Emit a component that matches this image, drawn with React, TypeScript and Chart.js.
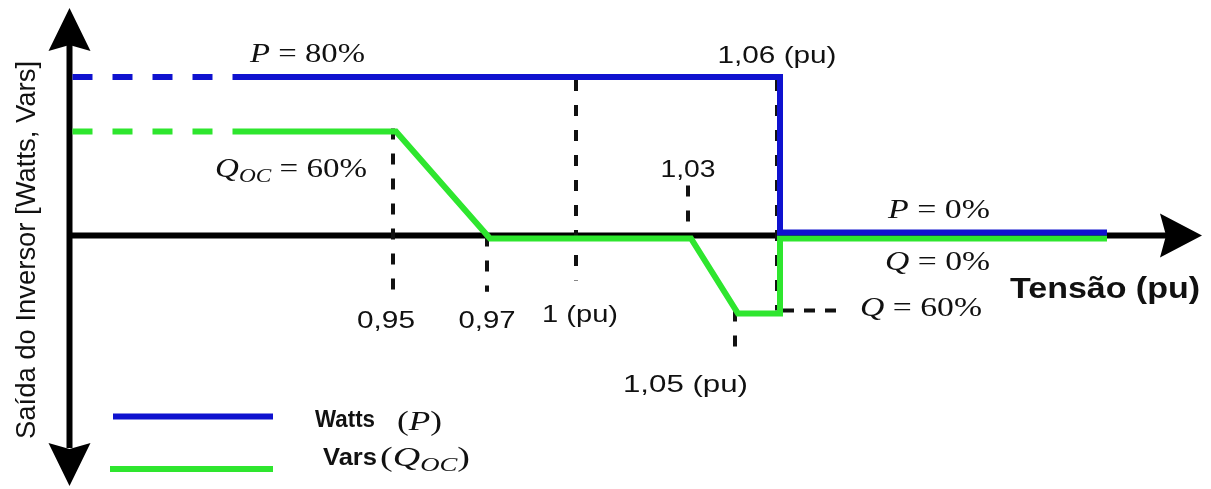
import React, { useEffect, useRef } from 'react';
import { Chart, LineController, LineElement, PointElement, LinearScale } from 'chart.js';

// ---------------------------------------------------------------------------
// Data
// ---------------------------------------------------------------------------

// Volt-watt curve: voltage (pu) -> active power (% of rating).
// 0.90 sits on the vertical axis, the dashed lead-in ends at 0.925.
const wattsVoltage = [0.9, 0.925, 1.06, 1.06, 1.1];
const wattsPercent = [80, 80, 80, 0, 0];

// Volt-var curve: voltage (pu) -> reactive power (% of rating).
const varsVoltage = [0.9, 0.925, 0.95, 0.97, 1.03, 1.05, 1.06, 1.06, 1.1];
const varsPercent = [60, 60, 60, 0, 0, -60, -60, 0, 0];

// Breakpoint ticks on the voltage axis.
const tickValues = [0.95, 0.97, 1.0, 1.03, 1.05, 1.06];
const tickLabels = ['0,95', '0,97', '1 (pu)', '1,03', '1,05 (pu)', '1,06 (pu)'];

// Dashed drop lines at each breakpoint: from level -> to level (%).
const guideFrom = [60, 0, 80, 28, -60, 80];
const guideTo = [-45, -45, -36, 0, -82, -60];

// Dashed level line pointing at the Q = -60 % plateau.
const levelGuideVoltage = [1.06, 1.068];
const levelGuidePercent = [-60, -60];

// Level annotations (math notation: letters italic, "_" starts a subscript).
const levelLabels = ['P = 80%', 'Q_OC = 60%', 'P = 0%', 'Q = 0%', 'Q = 60%'];

// Legend entries.
const legendNames = ['Watts', 'Vars'];
const legendSymbols = ['(P)', '(Q_OC)'];

const xTitle = 'Tensão (pu)';
const yTitle = 'Saída do Inversor [Watts, Vars]';

// ---------------------------------------------------------------------------
// Layout / style
// ---------------------------------------------------------------------------

const W = 1211;
const H = 489;

const BLUE = '#0f12cf';
const GREEN = '#2ee62e';
const INK = '#111111';
const SANS = '"Liberation Sans", Arial, Helvetica, sans-serif';
const SERIF = '"Liberation Serif", "Times New Roman", serif';

// The diagram is schematic: each axis is piecewise linear between knots.
const X_KNOT_VALUES = [0.9, 0.925, 0.95, 0.97, 1.0, 1.03, 1.05, 1.06, 1.1];
const X_KNOT_PX = [69.5, 230, 393, 487, 576, 688, 735, 777, 1104];
const Y_KNOT_VALUES = [-140, -60, 0, 60, 80, 110];
const Y_KNOT_PX = [489, 310.5, 235.5, 128.5, 80, 0];

// Small render offsets so the coincident zero lines stay visible side by side.
const SERIES_SHIFT: Record<string, [number, number]> = {
  Watts: [3, -3],
  Vars: [3, 3],
};

// Tick label placement: horizontal offset from tick, baseline, fitted width.
const tickLabelDx = [-7, 0, 4, 0, -49.5, 0];
const tickLabelBaseline = [328, 328, 322, 177, 392, 63];
const tickLabelWidth = [58, 57, 76, 55, 125, 119];

// Level annotation boxes: left, baseline, width.
const levelLabelBox: [number, number, number][] = [
  [250, 62, 115],
  [215, 177, 152],
  [888, 218, 102],
  [885, 270, 105],
  [860, 316, 122],
];

// Legend: line y, line start x, name left/width/baseline, symbol left/width/baseline.
const legendLineY = [416.5, 469];
const legendLineX0 = [113, 110];
const legendLineX1 = 273;
const legendNameBox: [number, number, number][] = [
  [315, 427, 60],
  [323, 465, 54],
];
const legendSymbolBox: [number, number, number][] = [
  [397, 430, 45],
  [380, 466, 90],
];

// ---------------------------------------------------------------------------
// Piecewise-linear scale
// ---------------------------------------------------------------------------

function interp(xs: number[], ys: number[], v: number): number {
  const n = xs.length;
  let i = 1;
  while (i < n - 1 && v > xs[i]) i++;
  const t = (v - xs[i - 1]) / (xs[i] - xs[i - 1]);
  return ys[i - 1] + t * (ys[i] - ys[i - 1]);
}

const AXIS_KNOTS: Record<string, { values: number[]; fractions: number[] }> = {
  x: { values: X_KNOT_VALUES, fractions: X_KNOT_PX.map((p) => p / W) },
  y: { values: Y_KNOT_VALUES, fractions: Y_KNOT_PX.map((p) => (H - p) / H) },
};

class BreakpointScale extends LinearScale {
  static id = 'breakpoint';
  static defaults = LinearScale.defaults;

  getPixelForValue(value: number): number {
    const k = AXIS_KNOTS[(this as any).id];
    const f = interp(k.values, k.fractions, value);
    return this.isHorizontal() ? this.left + f * this.width : this.bottom - f * this.height;
  }

  getValueForPixel(pixel: number): number {
    const k = AXIS_KNOTS[(this as any).id];
    const f = this.isHorizontal()
      ? (pixel - this.left) / this.width
      : (this.bottom - pixel) / this.height;
    return interp(k.fractions, k.values, f);
  }
}

Chart.register(LineController, LineElement, PointElement, LinearScale, BreakpointScale);

// ---------------------------------------------------------------------------
// Text helpers
// ---------------------------------------------------------------------------

type Run = { text: string; font: string; dy?: number };

function mathRuns(src: string, size: number): Run[] {
  const runs: Run[] = [];
  let i = 0;
  while (i < src.length) {
    const ch = src[i];
    if (ch === '_') {
      let j = i + 1;
      while (j < src.length && /[A-Za-z]/.test(src[j])) j++;
      runs.push({ text: src.slice(i + 1, j), font: `italic ${Math.round(size * 0.72)}px ${SERIF}`, dy: size * 0.2 });
      i = j;
    } else if (/[A-Za-z]/.test(ch)) {
      runs.push({ text: ch, font: `italic ${size}px ${SERIF}` });
      i++;
    } else {
      let j = i;
      while (j < src.length && !/[A-Za-z_]/.test(src[j])) j++;
      runs.push({ text: src.slice(i, j), font: `${size}px ${SERIF}` });
      i = j;
    }
  }
  return runs;
}

// Draws runs on one baseline, scaled horizontally to the given width.
function drawRuns(
  ctx: CanvasRenderingContext2D,
  runs: Run[],
  x: number,
  baseline: number,
  width: number,
  align: 'left' | 'center' = 'left'
) {
  ctx.save();
  ctx.textAlign = 'left';
  ctx.textBaseline = 'alphabetic';
  ctx.fillStyle = INK;
  let natural = 0;
  const widths = runs.map((r) => {
    ctx.font = r.font;
    const w = ctx.measureText(r.text).width;
    natural += w;
    return w;
  });
  const sx = width / natural;
  const left = align === 'center' ? x - width / 2 : x;
  ctx.translate(left, baseline);
  ctx.scale(sx, 1);
  let cx = 0;
  runs.forEach((r, i) => {
    ctx.font = r.font;
    ctx.fillText(r.text, cx, r.dy ?? 0);
    cx += widths[i];
  });
  ctx.restore();
}

function arrowHead(
  ctx: CanvasRenderingContext2D,
  tipX: number,
  tipY: number,
  dirX: number,
  dirY: number,
  len: number,
  half: number,
  notch: number
) {
  const bx = tipX - dirX * len;
  const by = tipY - dirY * len;
  const px = -dirY;
  const py = dirX;
  ctx.beginPath();
  ctx.moveTo(tipX, tipY);
  ctx.lineTo(bx + px * half, by + py * half);
  ctx.lineTo(tipX - dirX * (len - notch), tipY - dirY * (len - notch));
  ctx.lineTo(bx - px * half, by - py * half);
  ctx.closePath();
  ctx.fill();
}

// ---------------------------------------------------------------------------
// Plugin: axes with arrows, render offsets, annotations and legend
// ---------------------------------------------------------------------------

const diagramPlugin = {
  id: 'diagram',
  beforeDatasetsDraw(chart: any) {
    const ctx: CanvasRenderingContext2D = chart.ctx;
    const xs = chart.scales.x;
    const ys = chart.scales.y;
    const x0 = xs.getPixelForValue(X_KNOT_VALUES[0]);
    const y0 = ys.getPixelForValue(0);
    ctx.save();
    ctx.strokeStyle = '#000';
    ctx.fillStyle = '#000';
    ctx.lineWidth = 6;
    ctx.lineCap = 'butt';
    ctx.beginPath();
    ctx.moveTo(x0, 45);
    ctx.lineTo(x0, 448);
    ctx.moveTo(x0 - 3, y0);
    ctx.lineTo(1168, y0);
    ctx.stroke();
    arrowHead(ctx, x0, 8, 0, -1, 43, 21, 6);
    arrowHead(ctx, x0, 486, 0, 1, 43, 21, 6);
    arrowHead(ctx, 1202, y0, 1, 0, 42, 22, 6);
    ctx.restore();
  },
  beforeDatasetDraw(chart: any, args: any) {
    const ctx: CanvasRenderingContext2D = chart.ctx;
    ctx.save();
    const shift = SERIES_SHIFT[chart.data.datasets[args.index].label];
    if (shift) ctx.translate(shift[0], shift[1]);
  },
  afterDatasetDraw(chart: any) {
    chart.ctx.restore();
  },
  afterDatasetsDraw(chart: any) {
    const ctx: CanvasRenderingContext2D = chart.ctx;
    const xs = chart.scales.x;

    // Breakpoint labels
    tickValues.forEach((v, i) => {
      const cx = xs.getPixelForValue(v) + tickLabelDx[i];
      drawRuns(ctx, [{ text: tickLabels[i], font: `24px ${SANS}` }], cx, tickLabelBaseline[i], tickLabelWidth[i], 'center');
    });

    // Level annotations
    levelLabels.forEach((label, i) => {
      const [left, base, w] = levelLabelBox[i];
      drawRuns(ctx, mathRuns(label, 27), left, base, w);
    });

    // Axis titles
    drawRuns(ctx, [{ text: xTitle, font: `bold 29px ${SANS}` }], 1010, 298, 190);
    ctx.save();
    ctx.translate(35, 250);
    ctx.rotate(-Math.PI / 2);
    drawRuns(ctx, [{ text: yTitle, font: `27px ${SANS}` }], 0, 0, 378, 'center');
    ctx.restore();

    // Legend
    const colors = [BLUE, GREEN];
    legendNames.forEach((name, i) => {
      ctx.save();
      ctx.strokeStyle = colors[i];
      ctx.lineWidth = 6;
      ctx.lineCap = 'butt';
      ctx.beginPath();
      ctx.moveTo(legendLineX0[i], legendLineY[i]);
      ctx.lineTo(legendLineX1, legendLineY[i]);
      ctx.stroke();
      ctx.restore();
      const [nl, nb, nw] = legendNameBox[i];
      drawRuns(ctx, [{ text: name, font: `bold 23px ${SANS}` }], nl, nb, nw);
      const [sl, sb, sw] = legendSymbolBox[i];
      drawRuns(ctx, mathRuns(legendSymbols[i], 27), sl, sb, sw);
    });
  },
};

// ---------------------------------------------------------------------------
// Chart
// ---------------------------------------------------------------------------

const toPoints = (xs: number[], ys: number[]) => xs.map((x, i) => ({ x, y: ys[i] }));

const lineBase = {
  pointRadius: 0,
  tension: 0,
  fill: false,
  borderCapStyle: 'butt' as const,
  borderJoinStyle: 'miter' as const,
};

const leadInDash = (c: any) => (c.p0DataIndex === 0 ? [20, 20] : undefined);

function buildConfig(): any {
  const guides = tickValues.map((v, i) => ({
    ...lineBase,
    label: `guide ${tickLabels[i]}`,
    data: [
      { x: v, y: guideFrom[i] },
      { x: v, y: guideTo[i] },
    ],
    borderColor: INK,
    borderWidth: 4,
    borderDash: [11, 14],
  }));
  return {
    type: 'line',
    data: {
      datasets: [
        {
          ...lineBase,
          label: 'Watts',
          data: toPoints(wattsVoltage, wattsPercent),
          borderColor: BLUE,
          borderWidth: 6,
          segment: { borderDash: leadInDash },
        },
        {
          ...lineBase,
          label: 'Vars',
          data: toPoints(varsVoltage, varsPercent),
          borderColor: GREEN,
          borderWidth: 6,
          segment: { borderDash: leadInDash },
        },
        ...guides,
        {
          ...lineBase,
          label: 'guide Q',
          data: toPoints(levelGuideVoltage, levelGuidePercent),
          borderColor: INK,
          borderWidth: 4,
          borderDash: [11, 10],
          borderDashOffset: -6,
        },
      ],
    },
    options: {
      responsive: false,
      animation: false,
      events: [],
      layout: { padding: 0 },
      scales: {
        x: { type: 'breakpoint', min: 0.85, max: 1.15, display: false },
        y: { type: 'breakpoint', min: -150, max: 120, display: false },
      },
    },
    plugins: [diagramPlugin],
  };
}

export default function App() {
  const canvasRef = useRef<HTMLCanvasElement>(null);

  useEffect(() => {
    const chart = new Chart(canvasRef.current as HTMLCanvasElement, buildConfig());
    return () => chart.destroy();
  }, []);

  return (
    <div style={{ position: 'absolute', left: 0, top: 0, width: W, height: H, background: '#ffffff' }}>
      <canvas ref={canvasRef} width={W} height={H} />
    </div>
  );
}
